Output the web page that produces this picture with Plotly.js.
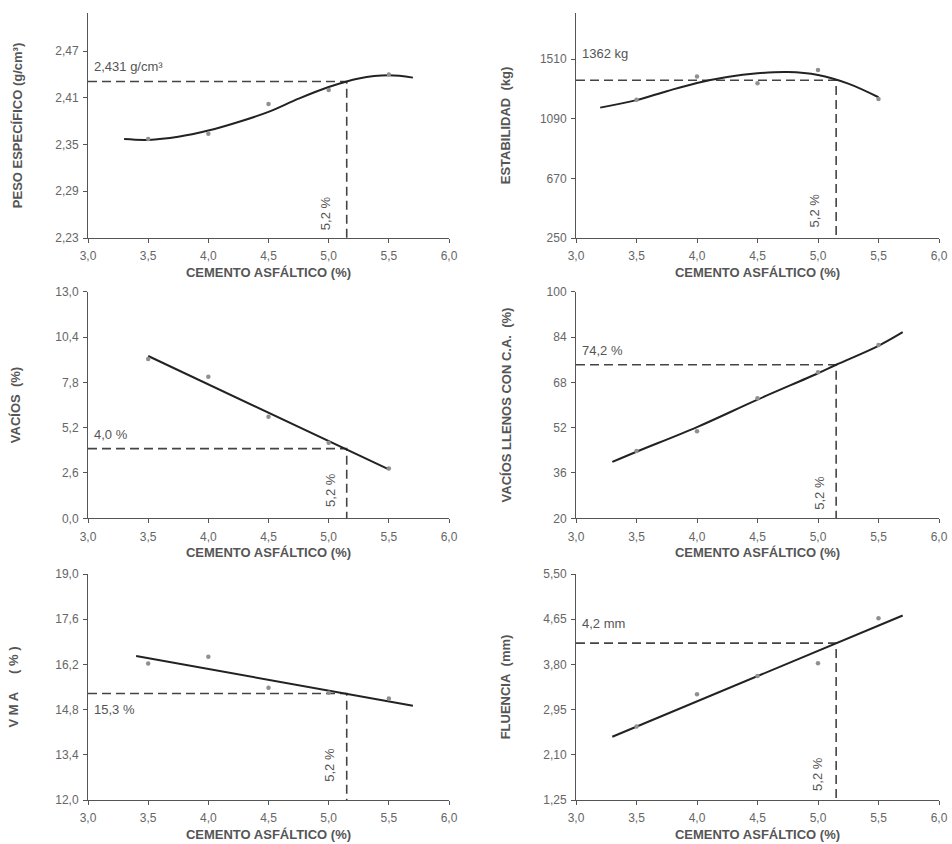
<!DOCTYPE html>
<html>
<head>
<meta charset="utf-8">
<script src="https://cdn.plot.ly/plotly-3.0.1.min.js"></script>
<style>html,body{margin:0;padding:0;background:#fff;}#chart{width:952px;height:844px;}</style>
</head>
<body>
<div id="chart"></div>
<script>
// ---- data ----
const cemento = [3.5, 4.0, 4.5, 5.0, 5.5];
const xTicks = [3.0, 3.5, 4.0, 4.5, 5.0, 5.5, 6.0];
const optimoCA = 5.15;

const pesoPts = [2.357, 2.364, 2.402, 2.420, 2.440];
const pesoCurveX = [3.3, 3.5, 3.75, 4.0, 4.25, 4.5, 4.75, 5.0, 5.25, 5.5, 5.7];
const pesoCurveY = [2.357, 2.356, 2.360, 2.368, 2.379, 2.392, 2.409, 2.424, 2.435, 2.439, 2.436];
const pesoTicks = [2.23, 2.29, 2.35, 2.41, 2.47];
const pesoOpt = 2.431;

const estabPts = [1225, 1388, 1341, 1435, 1230];
const estabCurveX = [3.2, 3.5, 3.75, 4.0, 4.25, 4.5, 4.75, 5.0, 5.25, 5.5];
const estabCurveY = [1169, 1222, 1285, 1343, 1385, 1411, 1420, 1399, 1338, 1242];
const estabTicks = [250, 670, 1090, 1510];
const estabOpt = 1362;

const vaciosPts = [9.14, 8.12, 5.83, 4.33, 2.85];
const vaciosLineX = [3.5, 5.5];
const vaciosLineY = [9.31, 2.81];
const vaciosTicks = [0.0, 2.6, 5.2, 7.8, 10.4, 13.0];
const vaciosOpt = 4.0;

const vllenosPts = [43.8, 50.7, 62.4, 71.6, 81.2];
const vllenosCurveX = [3.3, 3.5, 4.0, 4.5, 5.0, 5.15, 5.5, 5.7];
const vllenosCurveY = [39.9, 43.5, 52.2, 61.9, 71.2, 74.2, 80.9, 85.7];
const vllenosTicks = [20, 36, 52, 68, 84, 100];
const vllenosOpt = 74.2;

const vmaPts = [16.23, 16.44, 15.48, 15.32, 15.14];
const vmaLineX = [3.4, 5.7];
const vmaLineY = [16.46, 14.92];
const vmaTicks = [12.0, 13.4, 14.8, 16.2, 17.6, 19.0];
const vmaOpt = 15.3;

const fluenciaPts = [2.63, 3.24, 3.58, 3.82, 4.67];
const fluenciaLineX = [3.3, 5.7];
const fluenciaLineY = [2.44, 4.72];
const fluenciaTicks = [1.25, 2.10, 2.95, 3.80, 4.65, 5.50];
const fluenciaOpt = 4.2;

// ---- styling helpers ----
const W = 952, H = 844;
const FONT = "Liberation Sans, Arial, sans-serif";
const AXC = '#555';
const TXT = '#666';

function px2dom(a, b, total, flip) {
  if (flip) return [(total - b) / total, (total - a) / total];
  return [a / total, b / total];
}

const panels = [
  {title: 'PESO ESPECÍFICO (g/cm³)', pts: pesoPts, cx: pesoCurveX, cy: pesoCurveY, ticks: pesoTicks, fmt: '.2f',
   range: [2.23, 2.519], opt: pesoOpt, label: '2,431 g/cm³', labelY: 2.4507, rotY: 2.262, rotX: 4.97,
   xpx: [88, 449], ypx: [13, 238], standoff: 29},
  {title: 'ESTABILIDAD\u00a0\u00a0(kg)', pts: estabPts, cx: estabCurveX, cy: estabCurveY, ticks: estabTicks, fmt: 'd',
   range: [250, 1836], opt: estabOpt, label: '1362 kg', labelY: 1547, rotY: 447, rotX: 4.97,
   xpx: [576, 939], ypx: [13, 238], standoff: 26},
  {title: 'VACÍOS\u00a0\u00a0(%)', pts: vaciosPts, cx: vaciosLineX, cy: vaciosLineY, ticks: vaciosTicks, fmt: '.1f',
   range: [0, 13], opt: vaciosOpt, label: '4,0 %', labelY: 4.78, rotY: 1.62, rotX: 5.01,
   xpx: [88, 449], ypx: [291.7, 518.3], standoff: 31},
  {title: 'VACÍOS LLENOS CON C.A.\u00a0\u00a0(%)', pts: vllenosPts, cx: vllenosCurveX, cy: vllenosCurveY, ticks: vllenosTicks, fmt: 'd',
   range: [20, 100], opt: vllenosOpt, label: '74,2 %', labelY: 79.2, rotY: 29.1, rotX: 5.01,
   xpx: [576, 939], ypx: [291.7, 518.3], standoff: 32},
  {title: 'V M A\u00a0\u00a0\u00a0\u00a0\u00a0( % )', pts: vmaPts, cx: vmaLineX, cy: vmaLineY, ticks: vmaTicks, fmt: '.1f',
   range: [12, 19], opt: vmaOpt, label: '15,3 %', labelY: 14.79, rotY: 13.08, rotX: 5.0,
   xpx: [88, 449], ypx: [574, 800], standoff: 33},
  {title: 'FLUENCIA\u00a0\u00a0(mm)', pts: fluenciaPts, cx: fluenciaLineX, cy: fluenciaLineY, ticks: fluenciaTicks, fmt: '.2f',
   range: [1.25, 5.5], opt: fluenciaOpt, label: '4,2 mm', labelY: 4.56, rotY: 1.74, rotX: 5.0,
   xpx: [576, 939], ypx: [574, 800], standoff: 29}
];

const traces = [];
const layout = {
  width: W, height: H,
  margin: {l: 0, r: 0, t: 0, b: 0},
  paper_bgcolor: '#ffffff', plot_bgcolor: '#ffffff',
  separators: ',.',
  showlegend: false,
  font: {family: FONT, color: TXT, size: 12},
  annotations: []
};

panels.forEach((p, i) => {
  const n = i + 1;
  const xa = 'x' + (n === 1 ? '' : n);
  const ya = 'y' + (n === 1 ? '' : n);
  const xk = 'xaxis' + (n === 1 ? '' : n);
  const yk = 'yaxis' + (n === 1 ? '' : n);

  // dashed guide lines
  traces.push({
    type: 'scatter', mode: 'lines', xaxis: xa, yaxis: ya,
    x: [3.0, optimoCA, optimoCA], y: [p.opt, p.opt, p.range[0]],
    line: {color: '#444', width: 1.6, dash: '9px,5px'}, hoverinfo: 'skip'
  });
  // trend curve
  traces.push({
    type: 'scatter', mode: 'lines', xaxis: xa, yaxis: ya,
    x: p.cx, y: p.cy,
    line: {color: '#222', width: 2, shape: 'spline', smoothing: 1}
  });
  // measured points
  traces.push({
    type: 'scatter', mode: 'markers', xaxis: xa, yaxis: ya,
    x: cemento, y: p.pts,
    marker: {color: '#909090', size: 4.5}
  });

  layout[xk] = {
    domain: px2dom(p.xpx[0], p.xpx[1], W, false),
    anchor: ya,
    range: [3.0, 6.0],
    tickvals: xTicks, tickformat: '.1f',
    showgrid: false, zeroline: false,
    showline: true, linecolor: AXC, linewidth: 1,
    ticks: 'outside', ticklen: 4, tickcolor: AXC,
    ticklabelstandoff: 3,
    tickfont: {family: FONT, size: 12, color: TXT},
    title: {text: 'CEMENTO ASFÁLTICO (%)', standoff: 5,
            font: {family: FONT, size: 13, color: AXC, weight: 'bold'}}
  };
  layout[yk] = {
    domain: px2dom(p.ypx[0], p.ypx[1], H, true),
    anchor: xa,
    range: p.range,
    tickvals: p.ticks, tickformat: p.fmt,
    showgrid: false, zeroline: false,
    showline: true, linecolor: AXC, linewidth: 1,
    ticks: 'outside', ticklen: 4, tickcolor: AXC,
    ticklabelstandoff: 2,
    tickfont: {family: FONT, size: 12, color: TXT},
    title: {text: p.title, standoff: p.standoff,
            font: {family: FONT, size: 13, color: AXC, weight: 'bold'}}
  };

  // value label
  layout.annotations.push({
    xref: xa, yref: ya, x: 3.0, y: p.labelY, xanchor: 'left', yanchor: 'middle',
    xshift: 4, text: p.label, showarrow: false,
    font: {family: FONT, size: 13, color: '#555'}
  });
  // rotated 5,2 % label
  layout.annotations.push({
    xref: xa, yref: ya, x: p.rotX, y: p.rotY, xanchor: 'center', yanchor: 'middle',
    text: '5,2 %', textangle: -90, showarrow: false,
    font: {family: FONT, size: 13, color: '#555'}
  });
});

Plotly.newPlot('chart', traces, layout, {displayModeBar: false, staticPlot: true});
</script>
</body>
</html>
